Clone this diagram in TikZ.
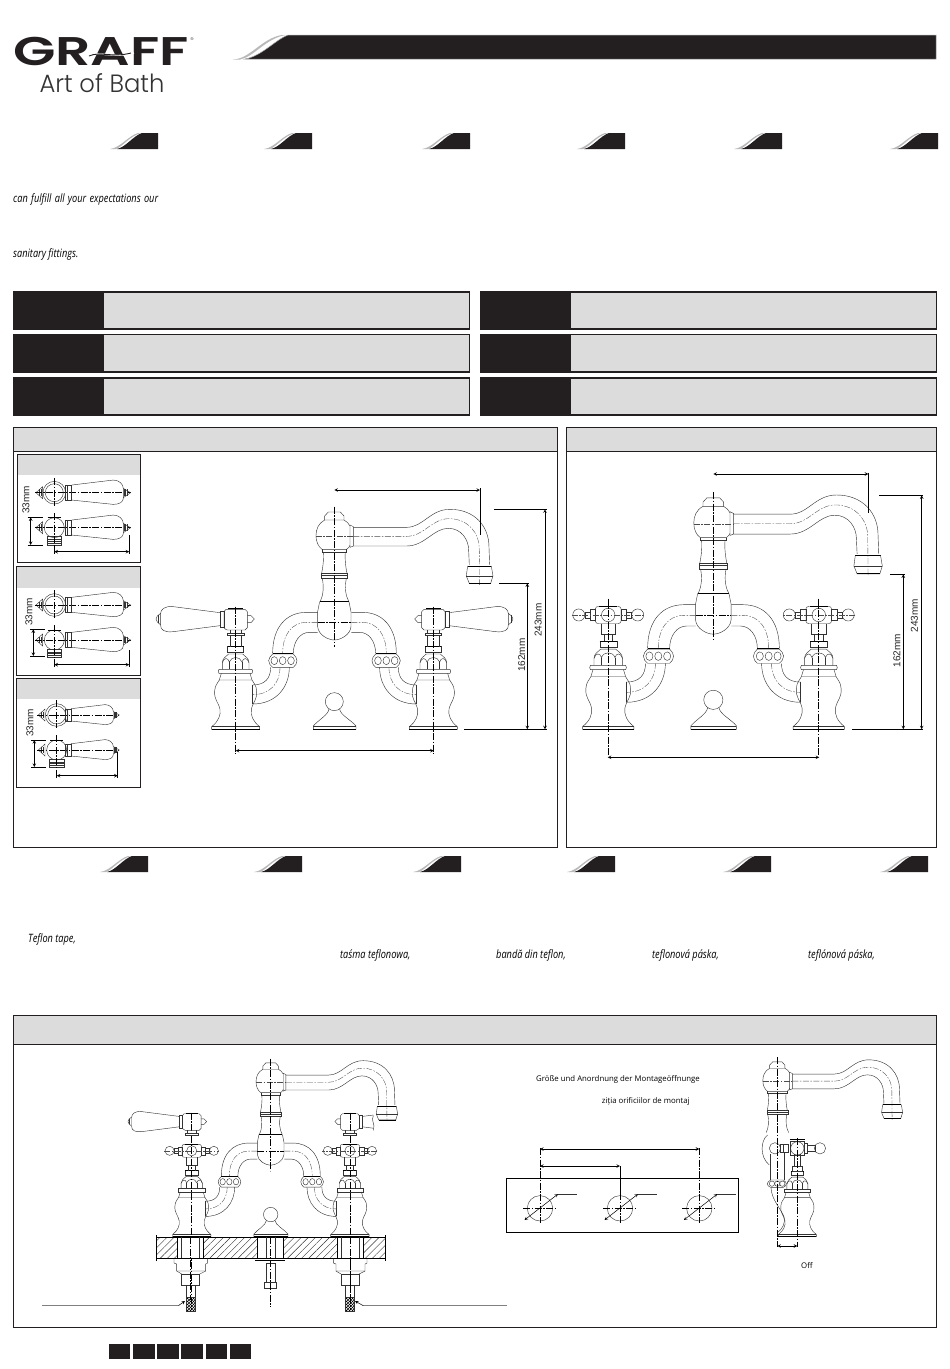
\documentclass[tikz,border=0pt]{standalone}
\usepackage{fontspec}
\setmainfont{Liberation Sans}
\newfontfamily\logofont[FakeStretch=1.38]{Poppins SemiBold}
\newfontfamily\thinfont[FakeStretch=0.97]{Poppins Light}
\newfontfamily\condit[FakeStretch=0.8]{Open Sans}
\newfontfamily\bodyfont{Open Sans}
\usetikzlibrary{patterns,patterns.meta,arrows}
\definecolor{barblack}{HTML}{231F20}
\definecolor{panelgray}{HTML}{DCDCDC}
\tikzset{
	outline/.style={line width=0.42pt,black!80},
	heavy/.style={line width=1pt,black},
	centerline/.style={line width=0.6pt,black,dash pattern=on 7pt off 1.5pt on 1.5pt off 1.5pt},
	thincenter/.style={line width=0.35pt,black!70,dash pattern=on 6pt off 1.5pt on 1.5pt off 1.5pt},
	dimline/.style={line width=0.6pt,black,<->,>=stealth},
	extline/.style={line width=0.6pt,black},
	dimtext/.style={font=\fontsize{10}{10}\selectfont,rotate=90,text=black!85,inner sep=0pt},
	frame/.style={draw=barblack,line width=1pt},
	italictext/.style={font=\condit\itshape\fontsize{11.5}{10}\selectfont,anchor=west,inner sep=0pt},
	plaintext/.style={font=\bodyfont\fontsize{7.8}{8}\selectfont,anchor=west,inner sep=0pt,text=black}
}
% small black tab with its grey swoosh
\newcommand{\tabshape}[2]{
	\fill[gray!55] ({#1-48},{#2+16}) .. controls ({#1-38},{#2+15}) and ({#1-30},{#2+3}) .. ({#1-20},#2) -- ({#1-17},#2) .. controls ({#1-28},{#2+3}) and ({#1-36},{#2+14}) .. ({#1-42},{#2+16}) -- cycle;
	\fill[barblack] (#1,#2) -- ({#1-16},#2) .. controls ({#1-25},{#2+3}) and ({#1-32},{#2+14}) .. ({#1-41},{#2+16}) -- (#1,{#2+16}) -- cycle;
}
% faucet parts, in the units of the left panel
\newcommand{\spouthead}{
	\draw[outline] (524,150) -- (524,138) -- (535,126) -- (571,126) -- (582,138) -- (582,150) -- cycle;
	\draw[outline] (524,150) .. controls (505,160) and (498,178) .. (498,197) .. controls (498,215) and (505,230) .. (516,238) -- (590,238) .. controls (595,234) and (599,230) .. (600,226);
	\draw[outline] (582,150) .. controls (590,154) and (596,160) .. (600,168);
	\draw[outline] (600,165) -- (610,170) -- (610,228) -- (600,232) -- cycle;
	\draw[outline] (516,238) -- (516,246) -- (590,246) -- (590,238);
	\draw[outline] (610,172) -- (770,172) .. controls (820,172) and (840,118) .. (900,118) .. controls (975,118) and (1017,170) .. (1017,230) -- (1019,284);
	\draw[outline] (610,228) -- (770,228) .. controls (825,228) and (850,175) .. (895,175) .. controls (935,175) and (956,210) .. (956,240) -- (958,284);
	\draw[thincenter] (610,199) -- (770,199) .. controls (822,199) and (845,146) .. (897,146) .. controls (955,146) and (988,190) .. (988,235) -- (989,345);
	\draw[heavy] (953,288) -- (1024,288);
	\draw[outline] (953,288) -- (949,318) -- (958,340) -- (1022,340) -- (1029,318) -- (1024,288);
	\draw[outline] (949,318) -- (1029,318);
	\draw[line width=0.7pt] (958,340) -- (1022,340);
	\draw[thincenter] (498,199) -- (610,199);
}
\newcommand{\spoutcolumn}{
	\draw[outline] (520,246) .. controls (522,270) and (518,295) .. (515,310);
	\draw[outline] (586,246) .. controls (584,270) and (588,295) .. (591,310);
	\draw[outline] (513,310) rectangle (593,326);
	\draw[outline] (513,317) -- (593,317);
	\draw[outline] (517,326) .. controls (522,350) and (520,375) .. (511,394);
	\draw[outline] (589,326) .. controls (584,350) and (586,375) .. (596,394);
}
\newcommand{\bridgehub}{
	\draw[heavy] (509,395) -- (597,395);
	\draw[outline] (509,395) -- (503,425) -- (503,470) .. controls (505,495) and (535,510) .. (553,510) .. controls (571,510) and (601,495) .. (603,470) -- (603,425) -- (597,395);
	\draw[centerline] (503,457) -- (603,457);
}
\newcommand{\popupknob}{
	\draw[outline] (553,695) circle[radius=27];
	\draw[outline] (537,717) .. controls (535,735) and (505,750) .. (490,768) -- (490,778) -- (618,778) -- (618,768) .. controls (603,750) and (571,735) .. (569,717);
	\draw[outline] (490,768) -- (618,768);
	\draw[heavy] (490,778) -- (618,778);
}
\newcommand{\arrowring}{
	\draw[outline] (368,552) -- (430,552) .. controls (436,558) and (441,565) .. (441,572) .. controls (441,580) and (436,588) .. (430,592) -- (368,592) .. controls (362,588) and (356,580) .. (356,572) .. controls (356,565) and (362,558) .. (368,552) -- cycle;
	\draw[heavy] (368,551) -- (430,551);
	\foreach \ringx in {373,398,423} \draw[outline] (\ringx,572) ellipse[x radius=10,y radius=12];
}
\newcommand{\bridgearm}{
	\draw[outline] (503,427) -- (470,427) .. controls (410,427) and (368,470) .. (368,550);
	\draw[thincenter] (503,457) -- (470,457) .. controls (425,457) and (398,495) .. (398,550);
	\draw[outline] (503,487) -- (478,487) .. controls (450,487) and (430,515) .. (430,550);
	\arrowring
	\draw[outline] (418,592) .. controls (418,650) and (380,702) .. (308,702);
	\draw[thincenter] (390,592) .. controls (390,640) and (360,674) .. (308,674);
	\draw[outline] (362,592) .. controls (362,625) and (345,645) .. (308,645);
	\draw[outline] (308,645) -- (308,702);
}
\newcommand{\valvebody}{
	\draw[outline] (185,778) -- (185,770) .. controls (205,755) and (213,735) .. (210,718) .. controls (205,695) and (192,690) .. (194,663) .. controls (195,645) and (203,640) .. (208,630) -- (306,630) .. controls (311,640) and (319,645) .. (320,663) .. controls (322,690) and (309,695) .. (304,718) .. controls (301,735) and (309,755) .. (329,770) -- (329,778) -- cycle;
	\draw[outline] (185,770) -- (329,770);
	\draw[line width=0.8pt] (185,778) -- (329,778);
	\draw[outline] (207,598) .. controls (204,602) and (204,606) .. (207,610) -- (306,610) .. controls (309,606) and (309,602) .. (306,598) -- cycle;
	\draw[outline] (214,610) -- (208,630);
	\draw[outline] (300,610) -- (306,630);
	\draw[outline] (217,598) -- (217,578) .. controls (217,565) and (228,560) .. (236,552) -- (278,552) .. controls (286,560) and (297,565) .. (297,578) -- (297,598);
	\draw[outline] (217,578) .. controls (222,562) and (234,562) .. (238,576) .. controls (244,558) and (270,558) .. (276,576) .. controls (280,562) and (292,562) .. (297,578);
	\draw[outline] (238,576) -- (238,598);
	\draw[outline] (276,576) -- (276,598);
	\draw[outline] (233,530) rectangle (281,546);
	\draw[heavy] (233,531) -- (281,531);
}
\newcommand{\leverhead}{
	\draw[outline] (222,425) .. controls (223,421) and (225,419) .. (228,418) -- (285,418) .. controls (289,419) and (291,421) .. (292,425) -- (292,473) .. controls (291,477) and (288,479) .. (285,480) -- (232,480) .. controls (228,479) and (224,477) .. (222,473) -- cycle;
	\draw[heavy] (235,416) -- (280,416);
	\draw[outline] (292,437) -- (303,437) -- (313,447) -- (303,458) -- (292,458);
	\draw[outline] (210,425) rectangle (222,472);
	\draw[outline] (210,428) -- (70,410) .. controls (42,407) and (32,420) .. (32,430) -- (32,465) .. controls (30,480) and (45,488) .. (70,485) -- (210,467);
	\draw[outline] (32,430) -- (22,438) -- (18,447) -- (22,456) -- (32,465);
	\draw[outline] (24,436) -- (24,458);
	\draw[outline] (240,480) -- (240,490);
	\draw[outline] (275,480) -- (275,490);
	\draw[outline] (232,490) rectangle (282,497);
}
\newcommand{\leverneck}{
	\draw[outline] (240,497) -- (240,530);
	\draw[outline] (275,497) -- (275,530);
}
\newcommand{\crosshead}{
	\draw[outline] (221,438) .. controls (221,434) and (225,432) .. (230,432) -- (284,432) .. controls (289,432) and (293,434) .. (293,438) -- (293,474) .. controls (293,478) and (289,480) .. (284,480) -- (230,480) .. controls (225,480) and (221,478) .. (221,474) -- cycle;
	\draw[heavy] (232,431) -- (282,431);
	\draw[outline] (257,456) circle[radius=19];
	\draw[outline] (205,441) rectangle (221,471);
	\draw[outline] (293,441) rectangle (309,471);
	\draw[outline] (192,447) rectangle (205,465);
	\draw[outline] (309,447) rectangle (322,465);
	\draw[outline] (174,456) circle[radius=17];
	\draw[outline] (340,456) circle[radius=17];
	\draw[thincenter] (154,456) -- (360,456);
	\draw[outline] (237,480) -- (237,510) -- (277,510) -- (277,480);
	\draw[outline] (245,510) -- (245,530);
	\draw[outline] (269,510) -- (269,530);
}
% whole faucet: head of the valves, ends of the valve centre line
\newcommand{\faucet}[3]{
	\spouthead
	\spoutcolumn
	\bridgehub
	\popupknob
	\foreach \mirx/\mirs in {0/1,1107/-1}{
		\begin{scope}[shift={(\mirx,0)},xscale=\mirs]
			\valvebody
			\bridgearm
			#1
			\draw[centerline] (257,#2) -- (257,#3);
		\end{scope}
	}
	\draw[centerline] (553,110) -- (553,530);
}
% lever seen from above, origin at the hub
\newcommand{\planhandle}{
	\draw[outline] (32,-22) rectangle (52,22);
	\draw[outline] (40,-22) -- (40,22);
	\draw[outline] (52,-23) -- (177,-38) .. controls (195,-38) and (207,-25) .. (207,-13) -- (207,17) .. controls (207,28) and (195,35) .. (177,35) -- (52,22);
	\draw[outline] (207,-13) -- (229,0) -- (207,15);
	\foreach \tipx in {210,214,218} \draw[outline] (\tipx,-10) -- (\tipx,10);
}
\newcommand{\plantip}{
	\draw[outline] (-55,0) -- (-35,-18) -- (-35,18) -- cycle;
	\foreach \tipx in {-45,-40} \draw[outline] (\tipx,-10) -- (\tipx,10);
}
\begin{document}
\begin{tikzpicture}[x=1pt,y=-1pt]
	\useasboundingbox (0,0) rectangle (950,1369);
	\fill[white] (0,0) rectangle (950,1369);
	% logo
	\node[inner sep=0pt,text height=28pt,text depth=0pt,font=\logofont\fontsize{40}{28}\selectfont,text=barblack] (logoword) at (101,51) {GRAFF};
	\draw[line width=1.3pt,white] (86,56) .. controls (100,50) and (112,59) .. (134,53);
	\draw[line width=0.9pt,barblack] (89,56) .. controls (100,51) and (112,58) .. (131,53);
	\node[inner sep=0pt,font=\fontsize{4}{4}\selectfont,text=barblack] (logomark) at (192,39) {®};
	\node[inner sep=0pt,text height=17pt,text depth=0pt,font=\thinfont\fontsize{25}{17}\selectfont,text=black!80] (logoline) at (102,84) {Art of Bath};
	% title banner
	\fill[gray!55] (233,59.5) .. controls (250,59) and (262,38) .. (282,35) -- (286,35) .. controls (266,38) and (254,57) .. (240,59.5) -- cycle;
	\fill[barblack,draw=gray!70,line width=0.5pt] (936,35) -- (288,35) .. controls (275,40) and (262,56) .. (245,59) -- (936,59) -- cycle;
	\foreach \tabx in {158,312,470,625,782,938} \tabshape{\tabx}{133};
	\foreach \tabx in {148,302,461,615,771,928} \tabshape{\tabx}{856};
	% texts above the bars
	\node[italictext] (fullline) at (13,199.5) {\makebox[145pt][s]{can fulfill all your expectations our}};
	\node[italictext] (lastline) at (13,254.5) {sanitary fittings.};
	% six bars
	\foreach \barx in {13.75,480.75}
		\foreach \bary/\barh in {292/37,334.7/37.3,378/37}{
			\fill[panelgray] (\barx,\bary) rectangle ({\barx+455.5},{\bary+\barh});
			\fill[barblack] (\barx,\bary) rectangle ({\barx+90.5},{\bary+\barh});
			\draw[draw=barblack,line width=1.5pt] (\barx,\bary) rectangle ({\barx+455.5},{\bary+\barh});
		}
	% panels
	\fill[panelgray] (13,427) rectangle (557,451);
	\fill[panelgray] (566,427) rectangle (936,451);
	\fill[panelgray] (13,1015) rectangle (936,1044);
	\draw[frame] (13,427) rectangle (557,847);
	\draw[frame] (13,451) -- (557,451);
	\draw[frame] (566,427) rectangle (936,847);
	\draw[frame] (566,451) -- (936,451);
	\draw[frame] (13,1015) rectangle (936,1327);
	\draw[frame] (13,1044) -- (936,1044);
	% three small handle boxes
	\foreach \boxl/\boxt/\boxb/\boxg in {17.3/454.3/562.3/475,16.3/566.3/675.3/587.7,16.3/678.3/787.3/699.3}{
		\fill[panelgray] (\boxl,\boxt) rectangle (140.3,\boxg);
		\draw[frame] (\boxl,\boxt) rectangle (140.3,\boxb);
	}
	\foreach \hx/\hy/\hs/\he/\vx/\vt/\vb/\dy/\de/\ex/\tx/\ty in {54.3/492.7/1/229/30.7/517.3/545/551.7/129.3/535/26/500,54.3/605/1/229/33.3/629.3/656/664.7/129.3/650/29/611.7,56.7/715/0.82/188/34.3/740/767/775.7/117.7/752/30/722.7}{
		\begin{scope}[shift={(\hx,\hy)},scale=0.3333]
			\plantip
			\draw[centerline] (-58,0) -- (\he,0);
			\draw[outline] (0,0) circle[radius=27];
			\draw[outline] (0,0) circle[radius=34];
			\draw[centerline] (0,-44) -- (0,40);
			\begin{scope}[scale=\hs] \planhandle \end{scope}
		\end{scope}
		\begin{scope}[shift={(\hx,\hy+35)},scale=0.3333]
			\plantip
			\draw[centerline] (-58,0) -- (\he,0);
			\draw[outline] (0,0) circle[radius=30];
			\draw[heavy] (-20,-30) -- (20,-30);
			\draw[outline] (-22,27) rectangle (22,52);
			\foreach \spigy in {36,41,46} \draw[outline] (-22,\spigy) -- (22,\spigy);
			\draw[centerline] (0,-44) -- (0,56);
			\begin{scope}[scale=\hs] \planhandle \end{scope}
		\end{scope}
		\draw[dimline] (\vx,\vt) -- (\vx,\vb);
		\draw[extline] (\vx-3,\vt) -- (\vx+12,\vt);
		\draw[extline] (\vx-3,\vb) -- (\vx+12,\vb);
		\draw[dimline] (\hx,\dy) -- (\de,\dy);
		\draw[extline] (\hx,\dy-6) -- (\hx,\dy+2);
		\draw[extline] (\de,\ex) -- (\de,\dy+2);
		\node[dimtext] (size\hy) at (\tx,\ty) {33mm};
	}
	% left panel
	\begin{scope}[shift={(150,470)},scale=0.3333]
		\faucet{\leverhead\leverneck}{410}{850}
	\end{scope}
	\draw[dimline] (334.3,490) -- (480,490);
	\draw[extline] (480,488) -- (480,535);
	\draw[dimline] (545,509.3) -- (545,729.3);
	\draw[dimline] (527.3,583.3) -- (527.3,729.3);
	\draw[extline] (494,509.3) -- (547,509.3);
	\draw[extline] (499,583.3) -- (529,583.3);
	\draw[extline] (464,729.3) -- (547,729.3);
	\draw[dimline] (235.7,750.7) -- (433.7,750.7);
	\node[dimtext] (heightA) at (538.3,620) {243mm};
	\node[dimtext] (outletA) at (521.7,655) {162mm};
	% right panel
	\begin{scope}[shift={(517,453.1)},scale=0.355]
		\faucet{\crosshead}{410}{850}
	\end{scope}
	\draw[dimline] (713.3,474) -- (868.3,474);
	\draw[extline] (868.3,472.7) -- (868.3,513);
	\draw[dimline] (921.7,495.3) -- (921.7,729.3);
	\draw[dimline] (903.3,574.3) -- (903.3,729.3);
	\draw[extline] (879.3,495.3) -- (923.3,495.3);
	\draw[extline] (890,574.3) -- (905,574.3);
	\draw[extline] (852,729.3) -- (923.3,729.3);
	\draw[dimline] (607.7,757.3) -- (819.3,757.3);
	\node[dimtext] (heightB) at (914.3,615.7) {243mm};
	\node[dimtext] (outletB) at (897,650.7) {162mm};
	% texts below the panels
	\node[italictext] (tapeen) at (28,939.5) {Teflon tape,};
	\node[italictext] (tapepl) at (340,955.5) {taśma teflonowa,};
	\node[italictext] (tapero) at (496,955.5) {bandă din teflon,};
	\node[italictext] (tapecz) at (652,955.5) {teflonová páska,};
	\node[italictext] (tapesk) at (808,955.5) {teflónová páska,};
	% bottom panel, faucet on the deck
	\begin{scope}[shift={(123.2,1029.2)},scale=0.2667]
		\faucet{\crosshead}{313}{1053}
		\begin{scope}[shift={(0,-101)}]
			\leverhead
		\end{scope}
		\begin{scope}[shift={(1107,-101)},xscale=-1]
			\begin{scope}
				\clip (169,390) rectangle (330,500);
				\leverhead
			\end{scope}
			\draw[outline] (169,425) .. controls (180,445) and (160,455) .. (169,480);
		\end{scope}
	\end{scope}
	\fill[white] (156.7,1237.3) rectangle (385.7,1258.3);
	\foreach \deckl/\deckr in {156.7/177.7,203.3/257.3,283.3/337.3,363.3/385.7}
		\fill[pattern={Lines[angle=45,distance=5pt,line width=0.4pt]},pattern color=black!80] (\deckl,1237.3) rectangle (\deckr,1258.3);
	\draw[line width=0.8pt] (156.7,1237.3) -- (385.7,1237.3);
	\draw[line width=0.8pt] (156.7,1258.3) -- (385.7,1258.3);
	\foreach \edgex in {156.7,385.7} \draw[extline] (\edgex,1235) -- (\edgex,1260.7);
	\foreach \wallx in {177.7,203.3,257.3,283.3,337.3,363.3} \draw[line width=0.8pt] (\wallx,1237.3) -- (\wallx,1258.3);
	\foreach \stemx in {190.7,350}{
		\begin{scope}[shift={(\stemx,0)}]
			\draw[outline] (-9,1237.3) -- (-9,1258.3);
			\draw[outline] (9,1237.3) -- (9,1258.3);
			\draw[outline] (-16.7,1258.3) -- (-16.7,1263) -- (-14,1264) -- (-14,1271) -- (15,1271) -- (15,1264) -- (17,1263) -- (17,1258.3);
			\draw[outline] (-9,1274) rectangle (9,1285);
			\draw[outline] (-14,1271) -- (-9,1274);
			\draw[outline] (15,1271) -- (9,1274);
			\draw[outline] (-4.5,1285) rectangle (4.5,1297);
			\fill[pattern=crosshatch,pattern color=black] (-4.5,1297) rectangle (4.5,1311);
			\draw[outline] (-4.5,1297) rectangle (4.5,1311);
			\draw[centerline] (0,1237.3) -- (0,1300);
		\end{scope}
	}
	\draw[line width=0.8pt] (255.3,1260.7) -- (285,1260.7);
	\draw[outline] (266,1237.3) -- (266,1258.3);
	\draw[outline] (275,1237.3) -- (275,1258.3);
	\draw[outline] (266,1263) rectangle (275,1281.7);
	\draw[outline] (264,1281.7) rectangle (276.7,1288.3);
	\draw[centerline] (270.7,1237.3) -- (270.7,1306.7);
	% hose leaders
	\draw[gray,line width=0.7pt] (42.3,1305.7) -- (178.3,1305.7);
	\draw[gray,line width=0.7pt] (506.7,1305.7) -- (363.3,1305.7);
	\draw[line width=0.5pt,->,>=stealth] (178.3,1305.7) -- (185,1301);
	\draw[line width=0.5pt,->,>=stealth] (363.3,1305.7) -- (355,1301);
	% plate with three holes
	\node[plaintext] (sizede) at (536,1079) {Größe und Anordnung der Montageöffnunge};
	\node[plaintext] (sizero) at (601.7,1101) {ziția orificiilor de montaj};
	\draw[line width=0.7pt] (506,1178.3) rectangle (738.3,1232.3);
	\foreach \holex in {540,620,699.3}{
		\draw[outline] (\holex,1208.3) circle[radius=12.7];
		\draw[centerline] (\holex-17,1208.3) -- (\holex+17,1208.3);
		\draw[line width=0.5pt,<->,>=stealth] (\holex-15.5,1220) -- (\holex+18,1194);
		\draw[outline] (\holex+18,1194) -- (\holex+37,1194);
	}
	\draw[centerline] (540,1148) -- (540,1222.7);
	\draw[extline] (620,1166) -- (620,1193);
	\draw[centerline] (620,1193) -- (620,1222.7);
	\draw[centerline] (699.3,1148) -- (699.3,1222.7);
	\draw[dimline] (540,1149) -- (699.3,1149);
	\draw[dimline] (540,1166) -- (620,1166);
	% side view
	\begin{scope}[shift={(631.7,1028.75)},scale=0.2633]
		\spouthead
		\spoutcolumn
	\end{scope}
	\begin{scope}[shift={(729.7,1031.8)},scale=0.2633]
		\valvebody
		\draw[outline] (237,510) rectangle (277,530);
		\draw[outline] (245,465) -- (245,510);
		\draw[outline] (269,465) -- (269,510);
	\end{scope}
	\begin{scope}[shift={(490,1040)},scale=0.3333]
		\draw[outline] (833,285) .. controls (812,300) and (808,350) .. (838,375);
		\draw[outline] (855,325) circle[radius=17];
		\draw[outline] (872,312) rectangle (895,338);
		\draw[outline] (881,312) -- (881,338);
		\draw[outline] (922,325) circle[radius=20];
		\draw[outline] (902,305) -- (942,305) -- (942,345) -- (902,345) -- cycle;
		\draw[heavy] (900,297) -- (945,297);
		\draw[outline] (942,310) rectangle (952,340);
		\draw[outline] (952,315) rectangle (975,335);
		\draw[outline] (990,325) circle[radius=17];
		\draw[outline] (841,342) -- (841,420);
		\draw[outline] (882,340) -- (882,420);
		\draw[outline] (842,420) -- (880,420) .. controls (886,424) and (889,428) .. (889,431) .. controls (889,436) and (886,440) .. (880,442) -- (842,442) .. controls (836,440) and (832,436) .. (832,431) .. controls (832,428) and (836,424) .. (842,420) -- cycle;
		\foreach \ringx in {846,862,877} \draw[outline] (\ringx,431) ellipse[x radius=8,y radius=8];
		\draw[outline] (843,443) .. controls (845,480) and (872,505) .. (882,530) .. controls (888,550) and (875,570) .. (862,578);
	\end{scope}
	\draw[centerline] (777.3,1057) -- (777.3,1247);
	\draw[centerline] (797.3,1138) -- (797.3,1247);
	\draw[line width=0.6pt,<->,>=stealth] (777.3,1246) -- (797.3,1246);
	\node[plaintext] (offlabel) at (801,1266) {Off};
	% black squares at the foot
	\foreach \squarel/\squarer in {109/130,133/155,157/179,181/203,205.7/227,230/251}
		\fill[barblack] (\squarel,1344) rectangle (\squarer,1359);
\end{tikzpicture}
\end{document}
